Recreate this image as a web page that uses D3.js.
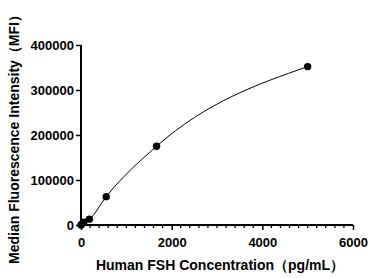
<!DOCTYPE html>
<html><head><meta charset="utf-8">
<script src="https://cdn.jsdelivr.net/npm/d3@7"></script>
<style>body{margin:0;background:#fff}svg{display:block}text{font-family:Arial,"Liberation Sans",sans-serif;font-weight:bold}</style>
</head><body><svg id="c" width="371" height="278"></svg>
<script>
const concentrations = [0, 21, 62, 185, 556, 1667, 5000];
const mfi = [0, 2500, 6000, 13000, 63000, 175000, 352000];
const xTicks = [0, 2000, 4000, 6000];
const yTicks = [0, 100000, 200000, 300000, 400000];
const xLabel = "Human FSH Concentration（pg/mL）";
const yLabel = "Median Fluorescence Intensity（MFI）";

const svg = d3.select("#c");
const x = d3.scaleLinear().domain([0, 6000]).range([81, 353]);
const y = d3.scaleLinear().domain([0, 400000]).range([225, 45]);

const xAxis = d3.axisBottom(x).tickValues(xTicks).tickSize(5).tickFormat(d3.format("d"));
const gx = svg.append("g").attr("transform", "translate(0,225)").call(xAxis);
const minor = d3.range(0, 6001, 200).filter(v => v % 2000 !== 0);
gx.selectAll(".minor").data(minor).enter().append("line")
  .attr("x1", d => x(d)).attr("x2", d => x(d)).attr("y1", 0).attr("y2", 3)
  .attr("stroke", "#000").attr("stroke-width", 1.3);
gx.select(".domain").attr("d", `M${x(0)-1},0H${x(6000)}`);

const yAxis = d3.axisLeft(y).tickValues(yTicks).tickSize(5).tickFormat(d3.format("d"));
const gy = svg.append("g").attr("transform", `translate(${x(0)},0)`).call(yAxis);
gy.select(".domain").attr("d", `M0,${y(400000)}V${y(0)+1}`);

[gx, gy].forEach(g => {
  g.selectAll(".domain").attr("stroke", "#000").attr("stroke-width", 2);
  g.selectAll(".tick line").attr("stroke", "#000").attr("stroke-width", 1.5);
  g.selectAll(".tick text").attr("font-size", 13).attr("font-weight", "bold").attr("fill", "#000")
    .attr("font-family", "Arial, 'Liberation Sans', sans-serif");
});
gx.selectAll(".tick text").attr("dy", "1.1em");
gy.selectAll(".tick text").attr("x", -7);

const data = concentrations.map((c, i) => ({c, v: mfi[i]}));
svg.append("path").datum(data)
  .attr("d", d3.line().x(d => x(d.c)).y(d => y(d.v)).curve(d3.curveMonotoneX))
  .attr("fill", "none").attr("stroke", "#000").attr("stroke-width", 1);

svg.selectAll("circle").data(data).enter().append("circle")
  .attr("cx", d => x(d.c)).attr("cy", d => y(d.v)).attr("r", 3.7).attr("fill", "#000");

svg.append("text").attr("x", 220).attr("y", 270).attr("text-anchor", "middle")
  .attr("font-size", 14).text(xLabel);
svg.append("text").attr("transform", "translate(19,136) rotate(-90)").attr("text-anchor", "middle")
  .attr("font-size", 14).text(yLabel);
</script></body></html>
